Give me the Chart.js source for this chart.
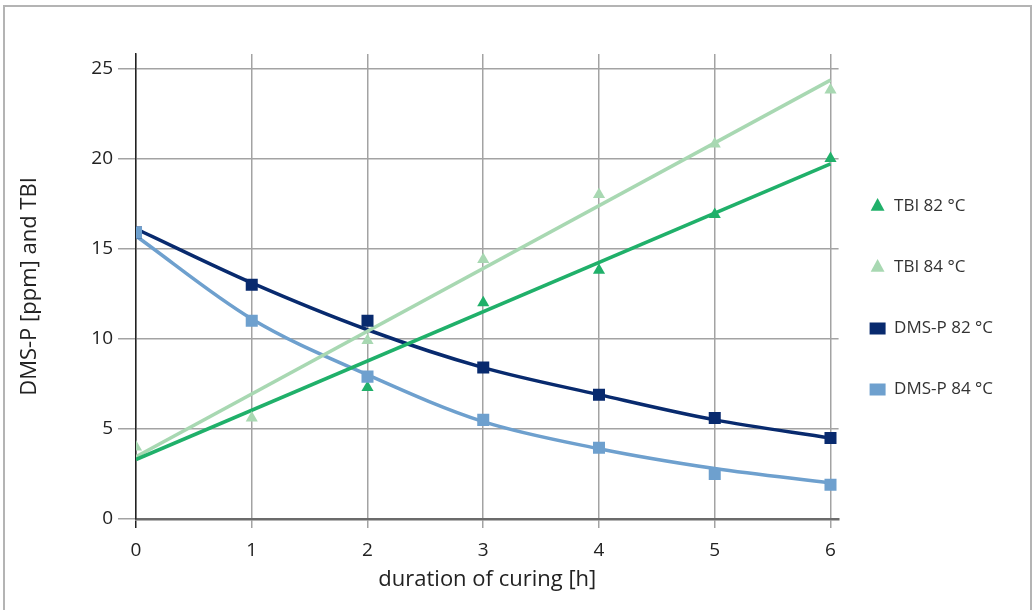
<html>

<head>
    <style>
        body {
            margin: 0;
            background-color: white;
        }

        #frame {
            position: absolute;
            left: 3px;
            top: 5px;
            width: 1025px;
            height: 700px;
            border: 2px solid #b4b4b4;
        }

        #holder {
            position: absolute;
            left: 0;
            top: 0;
            width: 1033px;
            height: 610px;
        }
    </style>
    <script src="https://cdn.jsdelivr.net/npm/chart.js"></script>
</head>

<body>
    <div id="frame"></div>
    <div id="holder">
        <canvas id="myChart" width="1033" height="610"></canvas>
    </div>
</body>

<script>
    var hours = [0, 1, 2, 3, 4, 5, 6];
    var tbi82 = [null, null, 7.3, 12.0, 13.8, 16.9, 20.0];
    var tbi84 = [4.0, 5.6, 9.9, 14.4, 18.0, 20.8, 23.8];
    var dmsp82 = [15.9, 13.0, 11.0, 8.4, 6.9, 5.6, 4.5];
    var dmsp84 = [15.9, 11.0, 7.9, 5.5, 3.95, 2.5, 1.9];

    // trend lines (also)
    var fitEnds = [0, 6];
    var tbi82Fit = [3.3, 19.7];
    var tbi84Fit = [3.45, 24.35];
    var dmsp82Fit = [16.1, 13.1, 10.5, 8.4, 6.9, 5.5, 4.5];
    var dmsp84Fit = [15.7, 11.1, 8.0, 5.4, 3.9, 2.8, 2.0];

    var yTicks = [0, 5, 10, 15, 20, 25];

    var green = 'rgb(32, 176, 106)';
    var lightGreen = 'rgb(168, 216, 178)';
    var navy = 'rgb(8, 42, 110)';
    var lightBlue = 'rgb(110, 160, 206)';

    function pairUp(xs, ys) {
        var out = [];
        for (var i = 0; i < xs.length; i++) {
            out.push({ x: xs[i], y: ys[i] });
        }
        return out;
    }

    function markers(label, ys, color, style, radius, order) {
        return {
            label: label,
            data: pairUp(hours, ys),
            showLine: false,
            pointStyle: style,
            pointRadius: radius,
            pointBackgroundColor: color,
            pointBorderColor: color,
            pointBorderWidth: 0,
            backgroundColor: color,
            borderColor: color,
            order: order
        };
    }

    function trend(label, xs, ys, color) {
        return {
            label: label,
            data: pairUp(xs, ys),
            showLine: true,
            borderColor: color,
            borderWidth: 3.5,
            pointRadius: 0,
            cubicInterpolationMode: 'monotone',
            order: 5
        };
    }

    // move the legend a bit to sit where the original has it
    var legendShift = {
        id: 'legendShift',
        afterLayout: function (chart) {
            var lg = chart.legend;
            lg.left -= 13;
            lg.right -= 13;
            lg.top -= 34;
            lg.bottom -= 34;
        }
    };

    var paintingCanvas = document.getElementById('myChart').getContext('2d');
    var chart = new Chart(paintingCanvas, {
        type: 'scatter',
        data: {
            datasets: [
                markers('TBI 82 °C', tbi82, green, 'triangle', 7, 1),
                markers('TBI 84 °C', tbi84, lightGreen, 'triangle', 7, 1),
                markers('DMS-P 82 °C', dmsp82, navy, 'rect', 8.5, 1),
                markers('DMS-P 84 °C', dmsp84, lightBlue, 'rect', 8.5, 0),
                trend('fit TBI 82', fitEnds, tbi82Fit, green),
                trend('fit TBI 84', fitEnds, tbi84Fit, lightGreen),
                trend('fit DMS-P 82', hours, dmsp82Fit, navy),
                trend('fit DMS-P 84', hours, dmsp84Fit, lightBlue)
            ]
        },
        plugins: [legendShift],
        options: {
            responsive: false,
            animation: false,
            layout: {
                padding: { top: 54, left: 0, right: 17, bottom: 0 }
            },
            plugins: {
                tooltip: { enabled: false },
                legend: {
                    position: 'right',
                    align: 'center',
                    labels: {
                        usePointStyle: true,
                        pointStyleWidth: 16,
                        boxHeight: 12,
                        padding: 44,
                        color: '#333',
                        font: { family: 'Open Sans', size: 17 },
                        filter: function (item) {
                            return item.datasetIndex < 4;
                        },
                        sort: function (a, b) {
                            return a.datasetIndex - b.datasetIndex;
                        }
                    }
                }
            },
            scales: {
                x: {
                    type: 'linear',
                    min: 0,
                    max: 6.07,
                    afterFit: function (scale) {
                        scale.height = 91;
                    },
                    ticks: {
                        stepSize: 1,
                        includeBounds: false,
                        padding: 11,
                        color: '#222',
                        font: { family: 'Open Sans', size: 19 }
                    },
                    grid: {
                        color: '#a3a3a3',
                        lineWidth: 1.5,
                        tickLength: 9,
                        tickColor: function (ctx) {
                            return ctx.index === 0 ? '#222' : '#a3a3a3';
                        }
                    },
                    border: { color: '#6b6b6b', width: 2.5 },
                    title: {
                        display: true,
                        text: 'duration of curing [h]',
                        color: '#222',
                        font: { family: 'Open Sans', size: 22 },
                        padding: { top: 0, bottom: 17 }
                    }
                },
                y: {
                    min: 0,
                    max: 25.8,
                    afterFit: function (scale) {
                        scale.width = 136;
                    },
                    afterBuildTicks: function (scale) {
                        scale.ticks = yTicks.map(function (v) { return { value: v }; });
                    },
                    ticks: {
                        padding: 5,
                        color: '#222',
                        font: { family: 'Open Sans', size: 19 }
                    },
                    grid: {
                        color: '#a3a3a3',
                        lineWidth: 1.5,
                        tickLength: 18
                    },
                    border: { color: '#222', width: 1.5 },
                    title: {
                        display: true,
                        text: 'DMS-P [ppm] and TBI',
                        color: '#222',
                        font: { family: 'Open Sans', size: 22 },
                        padding: { top: 17, bottom: 0 }
                    }
                }
            }
        }
    });
</script>

</html>
